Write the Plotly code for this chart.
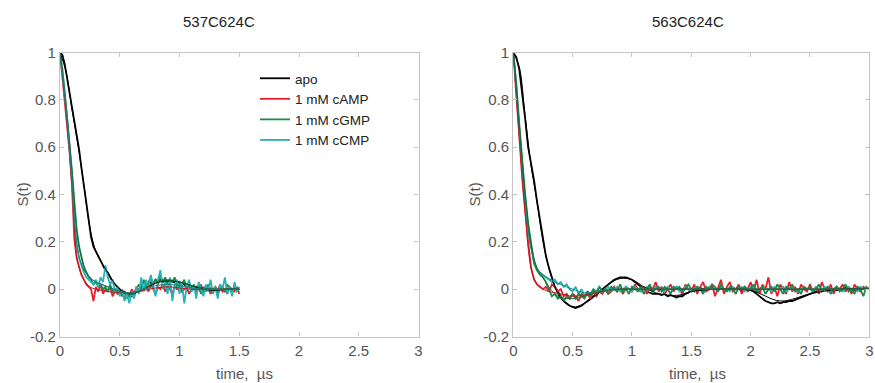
import numpy as np
import plotly.graph_objects as go

# ---------------- data ----------------
panel_titles = ["537C624C", "563C624C"]
series_names = ["apo", "1 mM cAMP", "1 mM cGMP", "1 mM cCMP"]

x_tickvals = [0, 0.5, 1, 1.5, 2, 2.5, 3]
x_ticktext = ["0", "0.5", "1", "1.5", "2", "2.5", "3"]
y_tickvals = [-0.2, 0, 0.2, 0.4, 0.6, 0.8, 1]
y_ticktext = ["-0.2", "0", "0.2", "0.4", "0.6", "0.8", "1"]

# left panel (537C624C), sampled every 0.02 us
t_left = np.round(np.arange(0, 1.5001, 0.02), 3)
left_apo = [1.00, 0.99, 0.95, 0.89, 0.82, 0.76, 0.70, 0.65, 0.59, 0.51,
            0.44, 0.36, 0.29, 0.22, 0.18, 0.16, 0.14, 0.12, 0.10, 0.08,
            0.07, 0.05, 0.03, 0.02, 0.01, 0.00, -0.01, -0.01, -0.03, -0.02,
            -0.03, -0.02, -0.01, 0.00, 0.01, 0.00, 0.02, 0.02, 0.03, 0.02,
            0.04, 0.03, 0.04, 0.03, 0.04, 0.03, 0.04, 0.03, 0.03, 0.02,
            0.03, 0.02, 0.02, 0.01, 0.02, 0.01, 0.00, 0.01, 0.00, 0.00,
            -0.01, 0.00, 0.00, -0.01, 0.00, 0.00, -0.01, 0.00, 0.00, -0.01,
            0.00, 0.00, -0.01, 0.00, 0.00, 0.00]
left_camp = [1.00, 0.90, 0.80, 0.70, 0.58, 0.44, 0.21, 0.13, 0.09, 0.06,
             0.04, 0.02, 0.01, 0.00, -0.05, 0.01, -0.01, 0.02, -0.02, 0.00,
             -0.01, 0.01, -0.03, -0.01, 0.00, -0.02, -0.01, -0.04, -0.02, -0.03,
             0.00, -0.02, 0.01, -0.01, 0.02, 0.00, 0.01, -0.01, 0.02, 0.00,
             -0.02, 0.01, 0.00, 0.02, -0.01, 0.01, 0.00, -0.02, 0.01, 0.00,
             0.02, -0.01, 0.00, 0.01, -0.02, 0.00, 0.01, -0.01, 0.00, 0.02,
             -0.01, 0.00, 0.01, -0.02, 0.00, 0.01, -0.01, 0.02, -0.01, 0.00,
             -0.02, 0.01, 0.00, -0.01, 0.01, -0.02]
left_cgmp = [1.00, 0.93, 0.83, 0.73, 0.62, 0.50, 0.37, 0.25, 0.18, 0.13,
             0.09, 0.07, 0.05, 0.04, 0.02, 0.03, 0.01, 0.02, 0.00, 0.01,
             -0.01, 0.02, -0.01, 0.00, -0.02, -0.01, -0.03, -0.01, -0.04, -0.02,
             -0.01, -0.03, 0.00, 0.02, -0.01, 0.04, 0.01, 0.03, 0.05, 0.02,
             0.04, 0.02, 0.06, 0.03, 0.05, 0.02, 0.04, 0.03, 0.05, 0.01,
             0.03, 0.02, 0.04, 0.00, 0.02, -0.01, 0.02, 0.00, 0.01, -0.02,
             0.01, -0.01, 0.02, 0.00, -0.01, 0.01, -0.02, 0.00, 0.01, -0.01,
             0.02, 0.00, -0.01, 0.01, -0.01, 0.00]
left_ccmp = [1.00, 0.92, 0.82, 0.72, 0.60, 0.46, 0.29, 0.19, 0.13, 0.10,
             0.07, 0.05, 0.04, 0.03, 0.02, 0.04, 0.01, 0.05, 0.03, 0.10,
             0.05, 0.02, 0.04, -0.01, 0.01, -0.03, 0.00, -0.05, -0.02, -0.06,
             -0.01, -0.04, 0.01, -0.02, 0.05, -0.01, 0.04, 0.00, 0.06, 0.01,
             -0.03, 0.04, 0.08, 0.00, 0.03, -0.02, 0.05, -0.05, 0.02, 0.04,
             -0.02, 0.03, -0.06, 0.01, 0.04, -0.01, 0.02, -0.04, 0.03, 0.00,
             -0.03, 0.02, -0.01, 0.04, -0.02, 0.01, -0.04, 0.02, 0.00, 0.05,
             -0.02, 0.01, -0.03, 0.03, -0.01, 0.01]

t_fit_left = [0, 0.05, 0.1, 0.15, 0.2, 0.25, 0.3, 0.35, 0.4, 0.5,
              0.6, 0.7, 0.8, 0.9, 1.0, 1.1, 1.2, 1.3, 1.4, 1.5]
fit_left_apo = [1.0, 0.92, 0.76, 0.61, 0.44, 0.26, 0.16, 0.11, 0.07, 0.00,
                -0.02, 0.00, 0.025, 0.035, 0.03, 0.015, 0.0, -0.005, 0.0, 0.0]
fit_left_camp = [1.0, 0.76, 0.44, 0.11, 0.04, 0.01, 0.0, -0.005, -0.01, -0.015,
                 -0.015, -0.005, 0.005, 0.01, 0.005, 0.0, 0.0, 0.0, 0.0, 0.0]
fit_left_cgmp = [1.0, 0.78, 0.50, 0.21, 0.10, 0.05, 0.03, 0.02, 0.01, -0.01,
                 -0.02, 0.0, 0.03, 0.04, 0.03, 0.015, 0.005, 0.0, 0.0, 0.0]
fit_left_ccmp = [1.0, 0.77, 0.46, 0.16, 0.08, 0.05, 0.03, 0.02, 0.01, -0.01,
                 -0.015, 0.0, 0.015, 0.02, 0.015, 0.005, 0.0, 0.0, 0.0, 0.0]

# right panel (563C624C), sampled every 0.025 us
t_right = np.round(np.arange(0, 3.0001, 0.025), 4)
right_apo = [1.00, 0.98, 0.93, 0.83, 0.72, 0.60, 0.53, 0.46, 0.37, 0.29,
             0.20, 0.14, 0.09, 0.05, 0.01, -0.01, -0.03, -0.05, -0.06, -0.07,
             -0.075, -0.08, -0.075, -0.07, -0.06, -0.05, -0.04, -0.03, -0.02, -0.01,
             0.00, 0.01, 0.02, 0.03, 0.04, 0.045, 0.05, 0.05, 0.05, 0.045,
             0.04, 0.03, 0.02, 0.01, 0.00, -0.01, -0.015, -0.02, -0.02, -0.02,
             -0.025, -0.02, -0.03, -0.025, -0.03, -0.035, -0.03, -0.03, -0.02, -0.015,
             -0.005, 0.00, 0.00, 0.005, 0.00, -0.005, 0.00, 0.005, 0.00, 0.00,
             0.005, 0.00, -0.005, 0.00, 0.005, 0.00, 0.00, -0.005, 0.00, 0.00,
             -0.005, -0.01, -0.02, -0.03, -0.04, -0.05, -0.055, -0.06, -0.06, -0.055,
             -0.06, -0.055, -0.055, -0.05, -0.05, -0.045, -0.04, -0.035, -0.03, -0.025,
             -0.02, -0.015, -0.01, -0.005, 0.00, 0.00, 0.005, 0.00, 0.00, -0.005,
             0.00, 0.00, 0.005, 0.00, 0.00, -0.005, 0.00, 0.00, 0.005, 0.00,
             0.00]
right_camp = [1.00, 0.84, 0.65, 0.47, 0.32, 0.20, 0.09, 0.04, 0.02, 0.01,
              0.00, 0.01, -0.01, 0.02, 0.01, -0.01, 0.00, -0.03, -0.02, -0.04,
              -0.02, -0.03, -0.05, -0.02, -0.03, -0.02, -0.04, -0.01, -0.03, -0.01,
              -0.02, 0.00, -0.02, -0.01, 0.01, -0.01, 0.00, -0.02, 0.01, 0.00,
              -0.01, 0.02, 0.00, -0.01, 0.01, -0.02, 0.01, 0.00, 0.03, -0.01,
              0.01, -0.02, 0.00, 0.02, -0.01, 0.01, 0.00, -0.02, 0.02, 0.00,
              -0.01, 0.02, -0.02, 0.01, 0.03, -0.01, 0.00, 0.02, -0.03, 0.01,
              0.04, -0.02, 0.01, 0.03, -0.01, 0.00, 0.02, -0.02, 0.01, 0.00,
              0.03, -0.01, 0.04, -0.02, 0.02, 0.00, 0.05, -0.02, 0.01, -0.03,
              0.02, 0.00, -0.02, 0.03, -0.01, 0.01, -0.02, 0.02, 0.00, -0.01,
              0.02, -0.01, 0.01, -0.02, 0.03, 0.00, -0.01, 0.02, -0.02, 0.01,
              0.00, 0.02, -0.01, 0.01, -0.02, 0.02, 0.00, -0.01, 0.01, 0.00,
              0.00]
right_cgmp = [1.00, 0.87, 0.70, 0.53, 0.40, 0.28, 0.19, 0.11, 0.08, 0.06,
              0.05, 0.03, 0.00, -0.03, -0.02, -0.04, -0.03, -0.05, -0.03, -0.04,
              -0.02, -0.04, -0.02, -0.03, -0.04, -0.01, -0.03, 0.00, -0.02, 0.01,
              -0.01, 0.00, -0.02, 0.01, 0.00, -0.01, 0.02, -0.01, 0.00, -0.02,
              0.01, 0.00, -0.01, 0.01, -0.02, 0.00, 0.02, -0.01, 0.00, 0.01,
              -0.01, 0.01, 0.00, -0.02, 0.01, 0.00, 0.01, -0.01, 0.00, 0.02,
              0.00, -0.01, 0.01, 0.00, -0.02, 0.01, 0.00, 0.02, 0.01, -0.01,
              0.02, 0.00, -0.01, 0.01, 0.00, -0.02, 0.01, 0.00, 0.01, -0.01,
              0.00, 0.02, -0.01, 0.00, 0.01, -0.02, 0.00, 0.01, -0.01, 0.02,
              0.00, -0.02, 0.01, 0.00, 0.02, -0.01, 0.00, -0.02, 0.01, 0.00,
              0.01, -0.01, 0.00, 0.02, -0.01, 0.00, 0.01, -0.02, 0.00, 0.01,
              -0.01, 0.00, 0.02, -0.01, 0.00, -0.02, 0.01, 0.00, -0.03, 0.01,
              0.00]
right_ccmp = [1.00, 0.86, 0.68, 0.51, 0.37, 0.25, 0.17, 0.11, 0.08, 0.07,
              0.06, 0.05, 0.04, 0.03, 0.04, 0.02, 0.03, 0.01, 0.02, 0.00,
              -0.01, 0.01, -0.02, 0.00, -0.03, -0.01, -0.02, 0.00, -0.01, 0.01,
              -0.01, 0.00, 0.01, -0.01, 0.00, 0.01, -0.01, 0.00, 0.01, 0.00,
              -0.01, 0.01, 0.00, -0.01, 0.00, 0.01, 0.00, -0.01, 0.01, 0.00,
              0.00, -0.01, 0.01, 0.00, 0.00, 0.01, -0.01, 0.00, 0.01, 0.00,
              -0.01, 0.00, 0.01, 0.00, -0.01, 0.00, 0.01, 0.00, 0.00, -0.01,
              0.01, 0.00, 0.00, -0.01, 0.01, 0.00, 0.00, 0.01, -0.01, 0.00,
              0.01, 0.00, -0.01, 0.00, 0.01, 0.00, 0.00, -0.01, 0.01, 0.00,
              0.00, 0.01, -0.01, 0.00, 0.01, 0.00, -0.01, 0.00, 0.01, 0.00,
              0.00, -0.01, 0.01, 0.00, 0.00, 0.01, -0.01, 0.00, 0.00, 0.01,
              0.00, -0.01, 0.00, 0.01, 0.00, 0.00, -0.01, 0.01, 0.00, 0.00,
              0.00]

t_fit_right = [0, 0.05, 0.1, 0.15, 0.2, 0.25, 0.3, 0.35, 0.4, 0.5,
               0.6, 0.7, 0.8, 0.9, 1.0, 1.1, 1.2, 1.3, 1.4, 1.5,
               1.75, 2.0, 2.25, 2.5, 2.75, 3.0]
fit_right_apo = [1.0, 0.94, 0.73, 0.52, 0.37, 0.20, 0.09, 0.01, -0.04, -0.075,
                 -0.06, -0.025, 0.02, 0.045, 0.04, 0.01, -0.015, -0.025, -0.025, -0.01,
                 0.0, -0.005, -0.05, -0.02, 0.0, 0.0]
fit_right_camp = [1.0, 0.65, 0.32, 0.09, 0.02, 0.0, -0.01, -0.015, -0.02, -0.03,
                  -0.025, -0.015, -0.005, 0.0, 0.0, 0.0, 0.0, 0.0, 0.0, 0.0,
                  0.0, 0.0, 0.0, 0.0, 0.0, 0.0]
fit_right_cgmp = [1.0, 0.70, 0.40, 0.19, 0.09, 0.05, 0.01, -0.02, -0.035, -0.04,
                  -0.03, -0.015, -0.005, 0.0, 0.0, 0.0, 0.0, 0.0, 0.0, 0.0,
                  0.0, 0.0, 0.0, 0.0, 0.0, 0.0]
fit_right_ccmp = [1.0, 0.68, 0.37, 0.17, 0.09, 0.06, 0.045, 0.03, 0.02, 0.0,
                  -0.015, -0.01, 0.0, 0.0, 0.0, 0.0, 0.0, 0.0, 0.0, 0.0,
                  0.0, 0.0, 0.0, 0.0, 0.0, 0.0]

# ---------------- style ----------------
COL = {"apo": "#000000", "1 mM cAMP": "#e3202b", "1 mM cGMP": "#1f8a48", "1 mM cCMP": "#26b3b6"}
FIT_COL = {"apo": "#000000", "1 mM cAMP": "#c0141e", "1 mM cGMP": "#156b37", "1 mM cCMP": "#1d7f7f"}
FONT = "Arial, Liberation Sans, sans-serif"
AXC = "#c4c4c4"
TXT = "#555555"

fig = go.Figure()

left_data = {"apo": left_apo, "1 mM cAMP": left_camp, "1 mM cGMP": left_cgmp, "1 mM cCMP": left_ccmp}
left_fit = {"apo": fit_left_apo, "1 mM cAMP": fit_left_camp, "1 mM cGMP": fit_left_cgmp, "1 mM cCMP": fit_left_ccmp}
right_data = {"apo": right_apo, "1 mM cAMP": right_camp, "1 mM cGMP": right_cgmp, "1 mM cCMP": right_ccmp}
right_fit = {"apo": fit_right_apo, "1 mM cAMP": fit_right_camp, "1 mM cGMP": fit_right_cgmp, "1 mM cCMP": fit_right_ccmp}

for name in ["apo", "1 mM cAMP", "1 mM cGMP", "1 mM cCMP"]:
    fig.add_trace(go.Scatter(x=t_left, y=left_data[name], mode="lines", name=name,
                             line=dict(color=COL[name], width=1.8), xaxis="x", yaxis="y",
                             showlegend=True))
for name in ["apo", "1 mM cAMP", "1 mM cGMP", "1 mM cCMP"]:
    fig.add_trace(go.Scatter(x=t_fit_left, y=left_fit[name], mode="lines", name=name + " fit",
                             line=dict(color=FIT_COL[name], width=1, shape="spline"),
                             xaxis="x", yaxis="y", showlegend=False))

for name in ["apo", "1 mM cAMP", "1 mM cCMP", "1 mM cGMP"]:
    fig.add_trace(go.Scatter(x=t_right, y=right_data[name], mode="lines", name=name,
                             line=dict(color=COL[name], width=1.8), xaxis="x2", yaxis="y2",
                             showlegend=False))
for name in ["apo", "1 mM cAMP", "1 mM cCMP", "1 mM cGMP"]:
    fig.add_trace(go.Scatter(x=t_fit_right, y=right_fit[name], mode="lines", name=name + " fit",
                             line=dict(color=FIT_COL[name], width=1, shape="spline"),
                             xaxis="x2", yaxis="y2", showlegend=False))

def xax(domain, anchor):
    return dict(domain=domain, anchor=anchor, range=[0, 3], tickvals=x_tickvals, ticktext=x_ticktext,
                ticks="inside", ticklen=4, tickcolor=AXC, showline=True, linecolor=AXC, linewidth=1.2,
                mirror="ticks", showgrid=False, zeroline=False, automargin=False,
                tickfont=dict(family=FONT, size=15, color=TXT))

def yax(domain, anchor):
    return dict(domain=domain, anchor=anchor, range=[-0.2, 1], tickvals=y_tickvals, ticktext=y_ticktext,
                ticks="inside", ticklen=4, tickcolor=AXC, showline=True, linecolor=AXC, linewidth=1.2,
                mirror="ticks", showgrid=False, zeroline=False, automargin=False,
                tickfont=dict(family=FONT, size=15, color=TXT))

W, H = 875, 383
ydom = [1 - 336.5 / H, 1 - 52.5 / H]
fig.update_layout(
    width=W, height=H, margin=dict(l=0, r=0, t=0, b=0),
    paper_bgcolor="white", plot_bgcolor="white", template="none",
    xaxis=xax([60 / W, 418.5 / W], "y"),
    yaxis=yax(ydom, "x"),
    xaxis2=xax([513.3 / W, 869.3 / W], "y2"),
    yaxis2=yax(ydom, "x2"),
    showlegend=True,
    legend=dict(x=255 / W, y=1 - 63 / H, xanchor="left", yanchor="top",
                bgcolor="rgba(0,0,0,0)", borderwidth=0, tracegroupgap=0,
                font=dict(family=FONT, size=13.5, color="#222222")),
    font=dict(family=FONT),
)

ann = []
ann.append(dict(text=panel_titles[0], x=219 / W, y=1 - 22 / H, xref="paper", yref="paper",
                xanchor="center", yanchor="middle",
                showarrow=False, font=dict(family=FONT, size=15, color="#222222")))
ann.append(dict(text=panel_titles[1], x=688 / W, y=1 - 22 / H, xref="paper", yref="paper",
                xanchor="center", yanchor="middle",
                showarrow=False, font=dict(family=FONT, size=15, color="#222222")))
for xc in [22 / W, 474 / W]:
    ann.append(dict(text="S(t)", x=xc, y=1 - 194.5 / H, xref="paper", yref="paper", textangle=-90,
                    xanchor="center", yanchor="middle",
                    showarrow=False, font=dict(family=FONT, size=15, color=TXT)))
for xc in [244 / W, 697 / W]:
    ann.append(dict(text="time,  µs", x=xc, y=1 - 373 / H, xref="paper", yref="paper",
                    xanchor="center", yanchor="middle",
                    showarrow=False, font=dict(family=FONT, size=15, color=TXT)))
fig.update_layout(annotations=ann)

fig.write_html("out.html", config={"displayModeBar": False},
               post_script="document.body.style.margin='0';document.body.style.overflow='hidden';")
